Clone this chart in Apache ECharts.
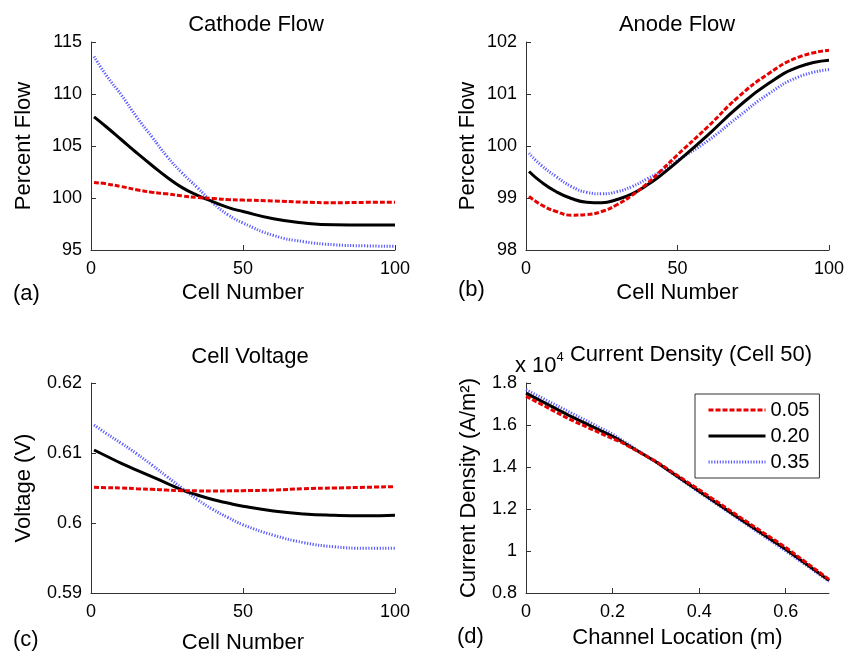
<!DOCTYPE html>
<html>
<head>
<meta charset="utf-8">
<script src="https://cdn.jsdelivr.net/npm/echarts@6/dist/echarts.min.js"></script>
<style>
    html, body { margin: 0; padding: 0; background: #fff; }
    #chart { width: 849px; height: 652px; }
</style>
</head>
<body>
<div id="chart"></div>
<script>
// cell index used for panels (a)-(c)
var cells = [1, 5, 10, 15, 20, 25, 30, 35, 40, 45, 50, 60, 70, 80, 90, 100];

// (a) cathode flow, percent
var cathode05 = [101.5, 101.36, 101.1, 100.8, 100.55, 100.4, 100.2, 100.05, 99.95, 99.85, 99.8, 99.72, 99.6, 99.55, 99.58, 99.6];
var cathode20 = [107.8, 106.85, 105.6, 104.35, 103.15, 102.0, 101.0, 100.25, 99.66, 99.1, 98.7, 98.0, 97.6, 97.42, 97.4, 97.4];
var cathode35 = [113.6, 111.8, 109.9, 107.8, 105.9, 104.0, 102.4, 101.0, 99.55, 98.4, 97.6, 96.4, 95.8, 95.5, 95.4, 95.35];

// (b) anode flow, percent
var anode05 = [99.03, 98.87, 98.74, 98.67, 98.68, 98.74, 98.87, 99.05, 99.28, 99.55, 99.83, 100.37, 100.94, 101.39, 101.71, 101.84];
var anode20 = [99.51, 99.31, 99.12, 98.99, 98.92, 98.91, 98.97, 99.08, 99.25, 99.46, 99.70, 100.21, 100.75, 101.2, 101.52, 101.65];
var anode35 = [99.86, 99.63, 99.41, 99.22, 99.11, 99.08, 99.12, 99.22, 99.37, 99.53, 99.72, 100.1, 100.56, 101.0, 101.33, 101.47];

// (c) cell voltage, V
var volt05 = [0.6051, 0.60505, 0.6050, 0.6049, 0.60481, 0.6047, 0.60462, 0.60459, 0.60457, 0.60459, 0.60462, 0.60471, 0.6049, 0.605, 0.6051, 0.6052];
var volt20 = [0.61043, 0.60957, 0.60852, 0.60757, 0.60662, 0.60567, 0.60471, 0.604, 0.60335, 0.60285, 0.6024, 0.60172, 0.6013, 0.6011, 0.60102, 0.6011];
var volt35 = [0.6140, 0.6128, 0.61138, 0.6099, 0.60829, 0.60662, 0.60495, 0.60335, 0.60195, 0.6008, 0.59975, 0.59826, 0.5972, 0.5966, 0.5964, 0.5964];

// (d) current density at cell 50, x 10^4 A/m2
var channelPos = [0, 0.1, 0.2, 0.22, 0.3, 0.4, 0.5, 0.6, 0.7];
var dens05 = [1.737, 1.628, 1.535, 1.518, 1.427, 1.292, 1.153, 1.017, 0.865];
var dens20 = [1.752, 1.645, 1.546, 1.523, 1.425, 1.285, 1.145, 1.008, 0.86];
var dens35 = [1.768, 1.662, 1.557, 1.53, 1.424, 1.28, 1.14, 1.0, 0.856];

var seriesNames = ['0.05', '0.20', '0.35'];

var FONT = '"Liberation Sans", Arial, Helvetica, sans-serif';
var styles = [
    { color: '#e60000', width: 3, type: [5, 2] },
    { color: '#000000', width: 3, type: 'solid' },
    { color: '#5a5aff', width: 3, type: [1.2, 1.6] }
];

function pairs(xs, ys) {
    return xs.map(function (x, i) { return [x, ys[i]]; });
}

function xAx(idx, name, min, max, interval, gap) {
    return {
        type: 'value', gridIndex: idx, min: min, max: max, interval: interval,
        name: name, nameLocation: 'middle', nameGap: gap,
        nameTextStyle: { fontFamily: FONT, fontSize: 22, color: '#000' },
        axisLine: { show: true, lineStyle: { color: '#333', width: 1 } },
        axisTick: { show: true, inside: true, length: 5, lineStyle: { color: '#333' } },
        axisLabel: { fontFamily: FONT, fontSize: 18, color: '#000', margin: 10 },
        splitLine: { show: false }
    };
}

function yAx(idx, name, min, max, interval, gap) {
    return {
        type: 'value', gridIndex: idx, min: min, max: max, interval: interval,
        name: name, nameLocation: 'middle', nameGap: gap, nameRotate: 90,
        nameTextStyle: { fontFamily: FONT, fontSize: 22, color: '#000' },
        axisLine: { show: true, lineStyle: { color: '#333', width: 1 } },
        axisTick: { show: true, inside: true, length: 5, lineStyle: { color: '#333' } },
        axisLabel: { fontFamily: FONT, fontSize: 18, color: '#000', margin: 9 },
        splitLine: { show: false }
    };
}

function line(idx, k, data, smooth) {
    return {
        name: seriesNames[k], type: 'line', xAxisIndex: idx, yAxisIndex: idx,
        data: data, showSymbol: false, symbol: 'none', smooth: smooth,
        lineStyle: { color: styles[k].color, width: styles[k].width, type: styles[k].type },
        itemStyle: { color: styles[k].color },
        z: 10 - k
    };
}

function label(x, y, text, align, size) {
    return {
        type: 'text', x: x, y: y,
        style: {
            text: text, fill: '#000', font: (size || 22) + 'px ' + FONT,
            align: align || 'center', textAlign: align || 'center',
            verticalAlign: 'middle', textVerticalAlign: 'middle'
        }
    };
}

var xAxisD = xAx(3, 'Channel Location (m)', 0, 0.7, 0.2, 34);
xAxisD.axisLabel.showMaxLabel = false;

var option = {
    backgroundColor: '#fff',
    animation: false,
    grid: [
        { left: 91, top: 42, width: 304, height: 208, outerBoundsMode: 'none' },
        { left: 526, top: 42, width: 303, height: 208, outerBoundsMode: 'none' },
        { left: 91, top: 383, width: 304, height: 210, outerBoundsMode: 'none' },
        { left: 526, top: 383, width: 303, height: 210, outerBoundsMode: 'none' }
    ],
    xAxis: [
        xAx(0, 'Cell Number', 0, 100, 50, 32),
        xAx(1, 'Cell Number', 0, 100, 50, 32),
        xAx(2, 'Cell Number', 0, 100, 50, 39),
        xAxisD
    ],
    yAxis: [
        yAx(0, 'Percent Flow', 95, 115, 5, 56),
        yAx(1, 'Percent Flow', 98, 102, 1, 47),
        yAx(2, 'Voltage (V)', 0.59, 0.62, 0.01, 56),
        yAx(3, 'Current Density (A/m²)', 0.8, 1.8, 0.2, 46)
    ],
    legend: {
        data: seriesNames,
        orient: 'vertical',
        left: 695, top: 394,
        padding: [6, 10, 6, 12],
        itemWidth: 57, itemHeight: 12, itemGap: 6,
        backgroundColor: '#fff',
        borderColor: '#333', borderWidth: 1,
        itemStyle: { opacity: 0 },
        lineStyle: { width: 3 },
        textStyle: { fontFamily: FONT, fontSize: 20, color: '#000' },
        selectedMode: false
    },
    graphic: [
        label(256, 25, 'Cathode Flow'),
        label(677, 25, 'Anode Flow'),
        label(250, 357, 'Cell Voltage'),
        label(691, 355, 'Current Density (Cell 50)'),
        {
            type: 'text', x: 515, y: 351,
            style: {
                text: '{a|x 10}{b|4}',
                rich: {
                    a: { fontFamily: FONT, fontSize: 22, color: '#000', verticalAlign: 'bottom', lineHeight: 26 },
                    b: { fontFamily: FONT, fontSize: 13, color: '#000', verticalAlign: 'top', lineHeight: 26 }
                }
            }
        },
        label(13, 294, '(a)', 'left'),
        label(458, 290, '(b)', 'left'),
        label(13, 640, '(c)', 'left'),
        label(457, 637, '(d)', 'left')
    ],
    series: [
        line(0, 0, pairs(cells, cathode05), 0.5),
        line(0, 1, pairs(cells, cathode20), 0.5),
        line(0, 2, pairs(cells, cathode35), 0.5),
        line(1, 0, pairs(cells, anode05), 0.5),
        line(1, 1, pairs(cells, anode20), 0.5),
        line(1, 2, pairs(cells, anode35), 0.5),
        line(2, 0, pairs(cells, volt05), 0.5),
        line(2, 1, pairs(cells, volt20), 0.5),
        line(2, 2, pairs(cells, volt35), 0.5),
        line(3, 0, pairs(channelPos, dens05), false),
        line(3, 1, pairs(channelPos, dens20), false),
        line(3, 2, pairs(channelPos, dens35), false)
    ]
};

var myChart = echarts.init(document.getElementById('chart'));
myChart.setOption(option);
</script>
</body>
</html>
